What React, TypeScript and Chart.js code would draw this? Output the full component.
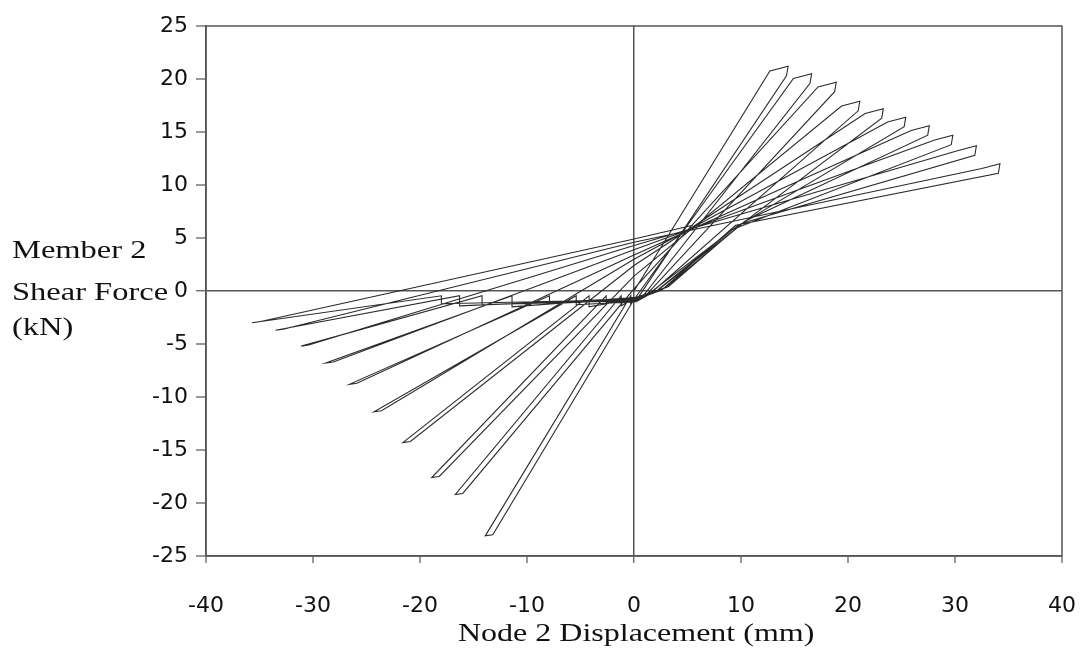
import React, { useEffect, useRef } from "react";
import { Chart, registerables } from "chart.js";

Chart.register(...registerables);

// ---- Data (displacement in mm, shear force in kN) ----
// Positive peaks of each cycle
const posPeakX = [14.4, 16.6, 18.9, 21.1, 23.3, 25.4, 27.6, 29.8, 32.0, 34.2];
const posPeakY = [21.2, 20.5, 19.7, 17.9, 17.2, 16.4, 15.6, 14.7, 13.7, 12.0];
// Negative peaks of each cycle
const negPeakX = [-13.9, -16.7, -18.9, -21.6, -24.3, -26.6, -28.8, -31.1, -33.5, -35.7];
const negPeakY = [-23.1, -19.2, -17.6, -14.3, -11.4, -8.8, -6.8, -5.2, -3.7, -3.0];
// Force where each reloading branch crosses zero displacement
const reloadZeroY = [-0.8, 0.2, 1.4, 2.4, 3.0, 3.4, 3.9, 4.3, 4.6, 4.9];
// Pinch point on each unloading branch (NaN = straight unloading)
const pinchX = [NaN, NaN, NaN, NaN, 10.8, 9.6, 10.4, 9.2, 10.1, 9.5];
const pinchY = [NaN, NaN, NaN, NaN, 6.9, 6.1, 6.6, 5.8, 6.4, 6.2];
// Where each unloading branch reaches the displacement axis
const unloadEndX = [0.4, 0.9, 1.3, 1.8, 2.4, 1.6, 2.9, 2.1, 3.2, 2.6];
const unloadEndY = [-0.6, -0.4, -0.2, 0.0, 0.2, -0.1, 0.3, 0.0, 0.4, 0.1];
// Slip plateau (about -1 kN): start force, end displacement, end force
const slipStartY = [-0.8, -0.6, -0.9, -0.7, -1.0, -0.8, -0.6, -0.9, -0.7, -0.8];
const slipEndX = [-0.3, -1.2, -2.6, -4.2, -5.4, -7.9, -11.4, -14.2, -16.3, -18.0];
const slipEndY = [-1.2, -1.4, -1.1, -1.5, -1.3, -1.2, -1.5, -1.3, -1.4, -1.2];
const slipNotchY = -0.45;
const slipStartX = 0.2;
// Shape of the peak "flags"
const flagWidth = 1.7;
const flagRise = 0.45;
const flagDrop = 0.9;
const flagBack = 0.15;
const tipWidth = 0.7;
const tipRise = 0.1;
const endPoint = { x: 5.5, y: 6.2 };

const xTickValues = [-40, -30, -20, -10, 0, 10, 20, 30, 40];
const yTickValues = [-25, -20, -15, -10, -5, 0, 5, 10, 15, 20, 25];

function buildPath() {
  const pts: { x: number; y: number }[] = [{ x: 0, y: 0 }];
  for (let k = 0; k < posPeakX.length; k++) {
    const px = posPeakX[k];
    const py = posPeakY[k];
    pts.push({ x: px - flagWidth, y: py - flagRise });
    pts.push({ x: px, y: py });
    pts.push({ x: px - flagBack, y: py - flagDrop });
    if (!isNaN(pinchY[k])) pts.push({ x: pinchX[k], y: pinchY[k] });
    pts.push({ x: unloadEndX[k], y: unloadEndY[k] });
    pts.push({ x: slipStartX, y: slipStartY[k] });
    pts.push({ x: slipEndX[k], y: slipEndY[k] });
    pts.push({ x: slipEndX[k], y: slipNotchY });
    pts.push({ x: negPeakX[k], y: negPeakY[k] });
    pts.push({ x: negPeakX[k] + tipWidth, y: negPeakY[k] + tipRise });
    pts.push({ x: 0, y: reloadZeroY[k] });
  }
  pts.push(endPoint);
  return pts;
}

const framePlugin = {
  id: "frame",
  afterDraw(chart: any) {
    const { ctx, chartArea } = chart;
    const { left, top, right, bottom } = chartArea;
    ctx.save();
    ctx.strokeStyle = "#555";
    ctx.lineWidth = 1.5;
    ctx.strokeRect(left, top, right - left, bottom - top);
    ctx.restore();
  },
};

export default function App() {
  const canvasRef = useRef<HTMLCanvasElement | null>(null);

  useEffect(() => {
    const canvas = canvasRef.current;
    if (!canvas) return;
    const tickFont = { family: "'DejaVu Sans', sans-serif", size: 22 };
    const zeroColor = (c: any) =>
      c.tick && c.tick.value === 0 ? "#555" : "rgba(0,0,0,0)";
    const zeroWidth = (c: any) => (c.tick && c.tick.value === 0 ? 1.5 : 0);

    const chart = new Chart(canvas, {
      type: "scatter",
      data: {
        datasets: [
          {
            data: buildPath(),
            showLine: true,
            borderColor: "#2b2b2b",
            borderWidth: 1.1,
            pointRadius: 0,
            fill: false,
            tension: 0,
          },
        ],
      },
      options: {
        responsive: false,
        animation: false,
        devicePixelRatio: 1,
        layout: { padding: { top: 26, right: 22, left: 0, bottom: 0 } },
        plugins: {
          legend: { display: false },
          tooltip: { enabled: false },
        },
        scales: {
          x: {
            type: "linear",
            min: -40,
            max: 40,
            afterBuildTicks: (s: any) => {
              s.ticks = xTickValues.map((v) => ({ value: v }));
            },
            afterFit: (s: any) => {
              s.height = 96;
              s.paddingLeft = 0;
              s.paddingRight = 0;
            },
            ticks: {
              font: tickFont,
              color: "#111",
              padding: 30,
              maxRotation: 0,
              autoSkip: false,
            },
            grid: {
              color: zeroColor,
              lineWidth: zeroWidth,
              tickColor: "#555",
              tickWidth: 1.2,
              tickLength: 7,
              drawTicks: true,
            },
            border: { display: true, color: "#555", width: 1.5 },
          },
          y: {
            type: "linear",
            min: -25,
            max: 25,
            afterBuildTicks: (s: any) => {
              s.ticks = yTickValues.map((v) => ({ value: v }));
            },
            afterFit: (s: any) => {
              s.width = 206;
              s.paddingTop = 0;
              s.paddingBottom = 0;
            },
            ticks: {
              font: tickFont,
              color: "#111",
              padding: 8,
              autoSkip: false,
            },
            grid: {
              color: zeroColor,
              lineWidth: zeroWidth,
              tickColor: "#555",
              tickWidth: 1.2,
              tickLength: 10,
              drawTicks: true,
            },
            border: { display: true, color: "#555", width: 1.5 },
          },
        },
      },
      plugins: [framePlugin],
    } as any);
    return () => chart.destroy();
  }, []);

  const serif = "'Liberation Serif', 'Times New Roman', serif";
  const titleLine = (text: string, top: number) => (
    <div
      style={{
        position: "absolute",
        left: 12,
        top,
        fontFamily: serif,
        fontSize: 25,
        lineHeight: "25px",
        whiteSpace: "nowrap",
        color: "#111",
        transform: "scaleX(1.3)",
        transformOrigin: "left top",
      }}
    >
      {text}
    </div>
  );

  return (
    <div
      style={{
        position: "fixed",
        left: 0,
        top: 0,
        width: 1084,
        height: 652,
        background: "#fff",
      }}
    >
      <canvas ref={canvasRef} width={1084} height={652} style={{ display: "block" }} />
      {titleLine("Member 2", 237)}
      {titleLine("Shear Force", 279)}
      {titleLine("(kN)", 314)}
      <div
        style={{
          position: "absolute",
          left: 458,
          top: 620,
          fontFamily: serif,
          fontSize: 25,
          lineHeight: "25px",
          whiteSpace: "nowrap",
          color: "#111",
          transform: "scaleX(1.28)",
          transformOrigin: "left top",
        }}
      >
        Node 2 Displacement (mm)
      </div>
    </div>
  );
}
